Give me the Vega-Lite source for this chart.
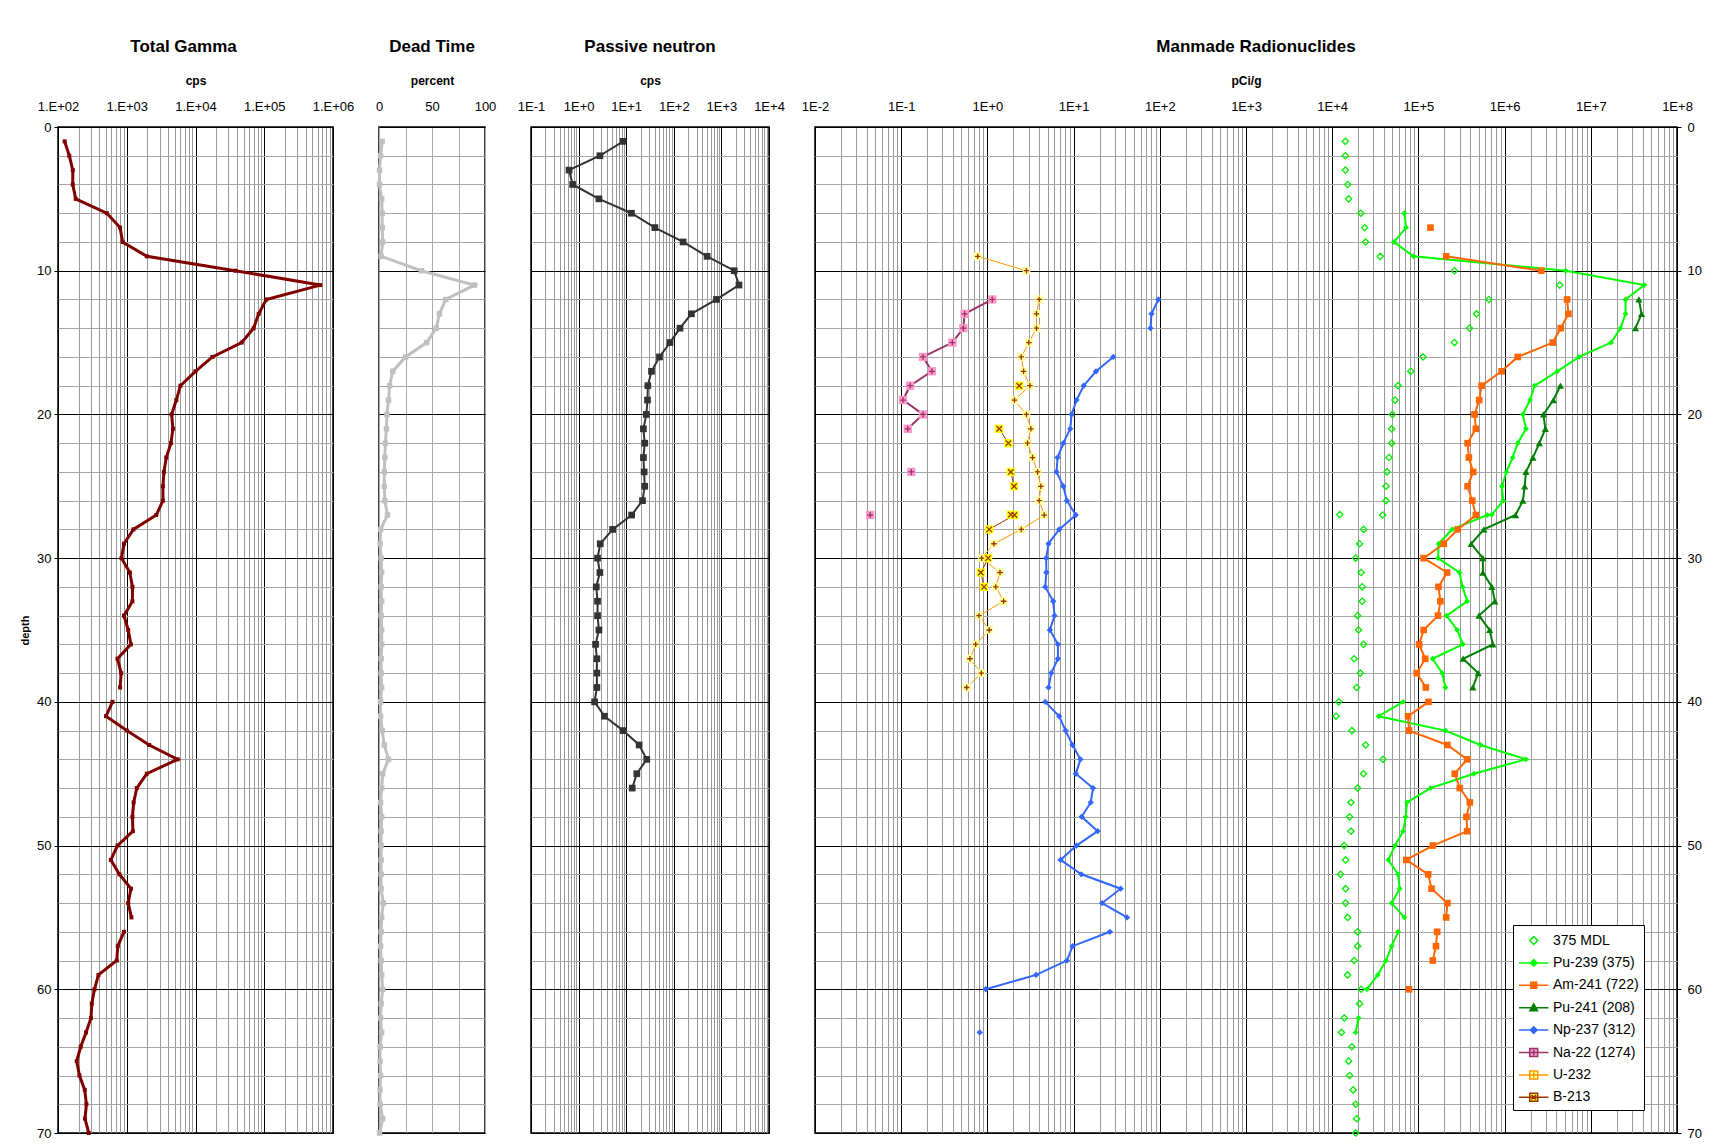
{
  "$schema": "https://vega.github.io/schema/vega-lite/v6.json",
  "padding": {"left": 18, "top": 37, "right": 5, "bottom": 5},
  "background": "white",
  "datasets": {
    "tg": [
      {"d":1,"v":125,"g":1},{"d":2,"v":146,"g":1},{"d":3,"v":164,"g":1},{"d":4,"v":164,"g":1},{"d":5,"v":181,"g":1},
      {"d":6,"v":513,"g":1},{"d":7,"v":800,"g":1},{"d":8,"v":870,"g":1},{"d":9,"v":1960,"g":1},{"d":10,"v":38000,"g":1},
      {"d":11,"v":653000,"g":1},{"d":12,"v":107000,"g":1},{"d":13,"v":83000,"g":1},{"d":14,"v":70000,"g":1},{"d":15,"v":47000,"g":1},
      {"d":16,"v":17600,"g":1},{"d":17,"v":10000,"g":1},{"d":18,"v":6030,"g":1},{"d":19,"v":5260,"g":1},{"d":20,"v":4490,"g":1},
      {"d":21,"v":4700,"g":1},{"d":22,"v":4390,"g":1},{"d":23,"v":3760,"g":1},{"d":24,"v":3470,"g":1},{"d":25,"v":3360,"g":1},
      {"d":26,"v":3360,"g":1},{"d":27,"v":2690,"g":1},{"d":28,"v":1250,"g":1},{"d":29,"v":912,"g":1},{"d":30,"v":838,"g":1},
      {"d":31,"v":1110,"g":1},{"d":32,"v":1210,"g":1},{"d":33,"v":1210,"g":1},{"d":34,"v":912,"g":1},{"d":35,"v":1050,"g":1},
      {"d":36,"v":1150,"g":1},{"d":37,"v":733,"g":1},{"d":38,"v":830,"g":1},{"d":39,"v":800,"g":1},
      {"d":40,"v":620,"g":2},{"d":41,"v":500,"g":2},{"d":42,"v":1000,"g":2},{"d":43,"v":2120,"g":2},{"d":44,"v":5500,"g":2},
      {"d":45,"v":1960,"g":2},{"d":46,"v":1400,"g":2},{"d":47,"v":1260,"g":2},{"d":48,"v":1210,"g":2},{"d":49,"v":1230,"g":2},
      {"d":50,"v":733,"g":2},{"d":51,"v":587,"g":2},{"d":52,"v":783,"g":2},{"d":53,"v":1150,"g":2},{"d":54,"v":1050,"g":2},{"d":55,"v":1170,"g":2},
      {"d":56,"v":912,"g":3},{"d":57,"v":740,"g":3},{"d":58,"v":716,"g":3},{"d":59,"v":388,"g":3},{"d":60,"v":339,"g":3},
      {"d":61,"v":310,"g":3},{"d":62,"v":302,"g":3},{"d":63,"v":256,"g":3},{"d":64,"v":214,"g":3},{"d":65,"v":187,"g":3},
      {"d":66,"v":205,"g":3},{"d":67,"v":245,"g":3},{"d":68,"v":259,"g":3},{"d":69,"v":247,"g":3},{"d":70,"v":280,"g":3}
    ],
    "dt": [
      {"d":1,"v":3},{"d":2,"v":1.5},{"d":3,"v":0.5},{"d":4,"v":0.5},{"d":5,"v":2.5},{"d":6,"v":3},{"d":7,"v":3},{"d":8,"v":3.5},{"d":9,"v":2},
      {"d":10,"v":40},{"d":11,"v":90},{"d":12,"v":63},{"d":13,"v":57},{"d":14,"v":54},{"d":15,"v":45},{"d":16,"v":25},{"d":17,"v":13},
      {"d":18,"v":10},{"d":19,"v":9},{"d":20,"v":7.5},{"d":21,"v":7},{"d":22,"v":6},{"d":23,"v":5.5},{"d":24,"v":5},{"d":25,"v":5},
      {"d":26,"v":5.5},{"d":27,"v":8},{"d":28,"v":1.5},{"d":29,"v":1},{"d":30,"v":2},{"d":31,"v":2.5},{"d":32,"v":2},{"d":33,"v":2.5},
      {"d":34,"v":2},{"d":35,"v":2.5},{"d":36,"v":2.5},{"d":37,"v":2},{"d":38,"v":2},{"d":39,"v":2.5},{"d":40,"v":1.5},{"d":41,"v":1.5},
      {"d":42,"v":3},{"d":43,"v":5},{"d":44,"v":9},{"d":45,"v":3.5},{"d":46,"v":2.5},{"d":47,"v":1.5},{"d":48,"v":2.5},{"d":49,"v":2},
      {"d":50,"v":2},{"d":51,"v":2},{"d":52,"v":2},{"d":53,"v":2},{"d":54,"v":4},{"d":55,"v":2.5},{"d":56,"v":2},{"d":57,"v":1.5},
      {"d":58,"v":2},{"d":59,"v":2.5},{"d":60,"v":3.5},{"d":61,"v":2},{"d":62,"v":1.5},{"d":63,"v":2.5},{"d":64,"v":1},{"d":65,"v":1},
      {"d":66,"v":1.5},{"d":67,"v":1},{"d":68,"v":1},{"d":69,"v":3.5},{"d":70,"v":0.5}
    ],
    "pn": [
      {"d":1,"v":8.65},{"d":2,"v":2.8},{"d":3,"v":0.63},{"d":4,"v":0.75},{"d":5,"v":2.67},{"d":6,"v":12.9},{"d":7,"v":40},{"d":8,"v":157},
      {"d":9,"v":500},{"d":10,"v":1860},{"d":11,"v":2340},{"d":12,"v":790},{"d":13,"v":234},{"d":14,"v":135},{"d":15,"v":83},{"d":16,"v":50},
      {"d":17,"v":34},{"d":18,"v":28.5},{"d":19,"v":28},{"d":20,"v":26.5},{"d":21,"v":23},{"d":22,"v":24.5},{"d":23,"v":23},{"d":24,"v":23.8},
      {"d":25,"v":24.5},{"d":26,"v":22},{"d":27,"v":13},{"d":28,"v":5.2},{"d":29,"v":2.85},{"d":30,"v":2.5},{"d":31,"v":2.8},{"d":32,"v":2.35},
      {"d":33,"v":2.5},{"d":34,"v":2.5},{"d":35,"v":2.67},{"d":36,"v":2.27},{"d":37,"v":2.42},{"d":38,"v":2.42},{"d":39,"v":2.42},{"d":40,"v":2.17},
      {"d":41,"v":3.5},{"d":42,"v":8.65},{"d":43,"v":18.7},{"d":44,"v":27},{"d":45,"v":16.7},{"d":46,"v":13.4}
    ],
    "mm": [
      {"s":"375 MDL","d":1,"v":14200,"g":0},{"s":"375 MDL","d":2,"v":14200,"g":0},{"s":"375 MDL","d":3,"v":14200,"g":0},{"s":"375 MDL","d":4,"v":15100,"g":0},
      {"s":"375 MDL","d":5,"v":15500,"g":0},{"s":"375 MDL","d":6,"v":21500,"g":0},{"s":"375 MDL","d":7,"v":23800,"g":0},{"s":"375 MDL","d":8,"v":24400,"g":0},
      {"s":"375 MDL","d":9,"v":36200,"g":0},{"s":"375 MDL","d":10,"v":262000,"g":0},{"s":"375 MDL","d":11,"v":4360000,"g":0},{"s":"375 MDL","d":12,"v":658000,"g":0},
      {"s":"375 MDL","d":13,"v":472000,"g":0},{"s":"375 MDL","d":14,"v":392000,"g":0},{"s":"375 MDL","d":15,"v":262000,"g":0},{"s":"375 MDL","d":16,"v":113000,"g":0},
      {"s":"375 MDL","d":17,"v":81500,"g":0},{"s":"375 MDL","d":18,"v":58000,"g":0},{"s":"375 MDL","d":19,"v":53600,"g":0},{"s":"375 MDL","d":20,"v":49900,"g":0},
      {"s":"375 MDL","d":21,"v":49000,"g":0},{"s":"375 MDL","d":22,"v":49000,"g":0},{"s":"375 MDL","d":23,"v":45600,"g":0},{"s":"375 MDL","d":24,"v":43200,"g":0},
      {"s":"375 MDL","d":25,"v":42100,"g":0},{"s":"375 MDL","d":26,"v":42100,"g":0},{"s":"375 MDL","d":26.97,"v":12200,"g":0},{"s":"375 MDL","d":27,"v":38500,"g":0},
      {"s":"375 MDL","d":28,"v":23100,"g":0},{"s":"375 MDL","d":29,"v":20800,"g":0},{"s":"375 MDL","d":30,"v":18700,"g":0},{"s":"375 MDL","d":31,"v":21700,"g":0},
      {"s":"375 MDL","d":32,"v":22300,"g":0},{"s":"375 MDL","d":33,"v":22300,"g":0},{"s":"375 MDL","d":34,"v":19700,"g":0},{"s":"375 MDL","d":35,"v":20200,"g":0},
      {"s":"375 MDL","d":36,"v":23100,"g":0},{"s":"375 MDL","d":37,"v":18000,"g":0},{"s":"375 MDL","d":38,"v":21200,"g":0},{"s":"375 MDL","d":39,"v":19200,"g":0},
      {"s":"375 MDL","d":40,"v":11900,"g":0},{"s":"375 MDL","d":41,"v":11100,"g":0},{"s":"375 MDL","d":42,"v":16900,"g":0},{"s":"375 MDL","d":43,"v":24400,"g":0},
      {"s":"375 MDL","d":44,"v":38800,"g":0},{"s":"375 MDL","d":45,"v":23100,"g":0},{"s":"375 MDL","d":46,"v":19700,"g":0},{"s":"375 MDL","d":47,"v":16500,"g":0},
      {"s":"375 MDL","d":48,"v":15900,"g":0},{"s":"375 MDL","d":49,"v":16500,"g":0},{"s":"375 MDL","d":50,"v":13800,"g":0},{"s":"375 MDL","d":51,"v":14300,"g":0},
      {"s":"375 MDL","d":52,"v":12500,"g":0},{"s":"375 MDL","d":53,"v":14300,"g":0},{"s":"375 MDL","d":54,"v":14300,"g":0},{"s":"375 MDL","d":55,"v":15100,"g":0},
      {"s":"375 MDL","d":56,"v":19700,"g":0},{"s":"375 MDL","d":57,"v":19700,"g":0},{"s":"375 MDL","d":58,"v":18000,"g":0},{"s":"375 MDL","d":59,"v":15100,"g":0},
      {"s":"375 MDL","d":60,"v":21700,"g":0},{"s":"375 MDL","d":61,"v":20800,"g":0},{"s":"375 MDL","d":62,"v":13800,"g":0},{"s":"375 MDL","d":63,"v":12800,"g":0},
      {"s":"375 MDL","d":64,"v":16900,"g":0},{"s":"375 MDL","d":65,"v":15500,"g":0},{"s":"375 MDL","d":66,"v":15900,"g":0},{"s":"375 MDL","d":67,"v":17500,"g":0},
      {"s":"375 MDL","d":68,"v":18700,"g":0},{"s":"375 MDL","d":69,"v":19200,"g":0},{"s":"375 MDL","d":70,"v":18700,"g":0},

      {"s":"Pu-239 (375)","d":6,"v":68700,"g":1},{"s":"Pu-239 (375)","d":7,"v":71900,"g":1},{"s":"Pu-239 (375)","d":8,"v":52100,"g":1},{"s":"Pu-239 (375)","d":9,"v":87600,"g":1},
      {"s":"Pu-239 (375)","d":10,"v":5120000,"g":1},{"s":"Pu-239 (375)","d":11,"v":41700000,"g":1},{"s":"Pu-239 (375)","d":12,"v":25300000,"g":1},{"s":"Pu-239 (375)","d":13,"v":25300000,"g":1},
      {"s":"Pu-239 (375)","d":14,"v":22100000,"g":1},{"s":"Pu-239 (375)","d":15,"v":17200000,"g":1},{"s":"Pu-239 (375)","d":16,"v":7310000,"g":1},{"s":"Pu-239 (375)","d":17,"v":4090000,"g":1},
      {"s":"Pu-239 (375)","d":18,"v":2230000,"g":1},{"s":"Pu-239 (375)","d":19,"v":1970000,"g":1},{"s":"Pu-239 (375)","d":20,"v":1630000,"g":1},{"s":"Pu-239 (375)","d":21,"v":1770000,"g":1},
      {"s":"Pu-239 (375)","d":22,"v":1420000,"g":1},{"s":"Pu-239 (375)","d":23,"v":1240000,"g":1},{"s":"Pu-239 (375)","d":24,"v":1050000,"g":1},{"s":"Pu-239 (375)","d":25,"v":931000,"g":1},
      {"s":"Pu-239 (375)","d":26,"v":964000,"g":1},{"s":"Pu-239 (375)","d":26.97,"v":712000,"g":1},{"s":"Pu-239 (375)","d":27,"v":628000,"g":1},{"s":"Pu-239 (375)","d":28,"v":246000,"g":1},
      {"s":"Pu-239 (375)","d":29,"v":172000,"g":1},{"s":"Pu-239 (375)","d":30,"v":169000,"g":1},{"s":"Pu-239 (375)","d":31,"v":300000,"g":1},{"s":"Pu-239 (375)","d":32,"v":325000,"g":1},
      {"s":"Pu-239 (375)","d":33,"v":368000,"g":1},{"s":"Pu-239 (375)","d":34,"v":212000,"g":1},{"s":"Pu-239 (375)","d":35,"v":282000,"g":1},{"s":"Pu-239 (375)","d":36,"v":328000,"g":1},
      {"s":"Pu-239 (375)","d":37,"v":146000,"g":1},{"s":"Pu-239 (375)","d":38,"v":189000,"g":1},{"s":"Pu-239 (375)","d":39,"v":206000,"g":1},
      {"s":"Pu-239 (375)","d":40,"v":66400,"g":2},{"s":"Pu-239 (375)","d":41,"v":34600,"g":2},{"s":"Pu-239 (375)","d":42,"v":206000,"g":2},{"s":"Pu-239 (375)","d":43,"v":526000,"g":2},
      {"s":"Pu-239 (375)","d":44,"v":1770000,"g":2},{"s":"Pu-239 (375)","d":45,"v":440000,"g":2},{"s":"Pu-239 (375)","d":46,"v":138000,"g":2},{"s":"Pu-239 (375)","d":47,"v":73800,"g":2},
      {"s":"Pu-239 (375)","d":48,"v":71200,"g":2},{"s":"Pu-239 (375)","d":49,"v":66400,"g":2},{"s":"Pu-239 (375)","d":50,"v":53600,"g":2},{"s":"Pu-239 (375)","d":51,"v":44800,"g":2},
      {"s":"Pu-239 (375)","d":52,"v":58000,"g":2},{"s":"Pu-239 (375)","d":53,"v":60700,"g":2},{"s":"Pu-239 (375)","d":54,"v":49000,"g":2},{"s":"Pu-239 (375)","d":55,"v":68700,"g":2},
      {"s":"Pu-239 (375)","d":56,"v":58000,"g":3},{"s":"Pu-239 (375)","d":57,"v":49000,"g":3},{"s":"Pu-239 (375)","d":58,"v":42100,"g":3},{"s":"Pu-239 (375)","d":59,"v":33700,"g":3},
      {"s":"Pu-239 (375)","d":60,"v":25300,"g":3},{"s":"Pu-239 (375)","d":62,"v":20200,"g":4},{"s":"Pu-239 (375)","d":63,"v":18700,"g":4},

      {"s":"Am-241 (722)","d":7,"v":138000,"g":1},{"s":"Am-241 (722)","d":9,"v":210000,"g":2},{"s":"Am-241 (722)","d":10,"v":2670000,"g":2},
      {"s":"Am-241 (722)","d":12,"v":5310000,"g":3},{"s":"Am-241 (722)","d":13,"v":5500000,"g":3},{"s":"Am-241 (722)","d":14,"v":4480000,"g":3},{"s":"Am-241 (722)","d":15,"v":3610000,"g":3},
      {"s":"Am-241 (722)","d":16,"v":1420000,"g":3},{"s":"Am-241 (722)","d":17,"v":923000,"g":3},{"s":"Am-241 (722)","d":18,"v":541000,"g":3},{"s":"Am-241 (722)","d":19,"v":507000,"g":3},
      {"s":"Am-241 (722)","d":20,"v":448000,"g":3},{"s":"Am-241 (722)","d":21,"v":464000,"g":3},{"s":"Am-241 (722)","d":22,"v":372000,"g":3},{"s":"Am-241 (722)","d":23,"v":385000,"g":3},
      {"s":"Am-241 (722)","d":24,"v":432000,"g":3},{"s":"Am-241 (722)","d":25,"v":372000,"g":3},{"s":"Am-241 (722)","d":26,"v":421000,"g":3},{"s":"Am-241 (722)","d":27,"v":464000,"g":3},
      {"s":"Am-241 (722)","d":28,"v":286000,"g":3},{"s":"Am-241 (722)","d":29,"v":197000,"g":3},{"s":"Am-241 (722)","d":30,"v":115000,"g":3},{"s":"Am-241 (722)","d":31,"v":215000,"g":3},
      {"s":"Am-241 (722)","d":32,"v":171000,"g":3},{"s":"Am-241 (722)","d":33,"v":180000,"g":3},{"s":"Am-241 (722)","d":34,"v":169000,"g":3},{"s":"Am-241 (722)","d":35,"v":115000,"g":3},
      {"s":"Am-241 (722)","d":36,"v":102000,"g":3},{"s":"Am-241 (722)","d":37,"v":120000,"g":3},{"s":"Am-241 (722)","d":38,"v":95700,"g":3},{"s":"Am-241 (722)","d":39,"v":122000,"g":3},
      {"s":"Am-241 (722)","d":40,"v":131000,"g":4},{"s":"Am-241 (722)","d":41,"v":75900,"g":4},{"s":"Am-241 (722)","d":42,"v":77800,"g":4},{"s":"Am-241 (722)","d":43,"v":217000,"g":4},
      {"s":"Am-241 (722)","d":44,"v":368000,"g":4},{"s":"Am-241 (722)","d":45,"v":264000,"g":4},{"s":"Am-241 (722)","d":46,"v":302000,"g":4},{"s":"Am-241 (722)","d":47,"v":395000,"g":4},
      {"s":"Am-241 (722)","d":48,"v":361000,"g":4},{"s":"Am-241 (722)","d":49,"v":368000,"g":4},{"s":"Am-241 (722)","d":50,"v":147000,"g":4},{"s":"Am-241 (722)","d":51,"v":72400,"g":4},
      {"s":"Am-241 (722)","d":52,"v":130000,"g":4},{"s":"Am-241 (722)","d":53,"v":142000,"g":4},{"s":"Am-241 (722)","d":54,"v":217000,"g":4},{"s":"Am-241 (722)","d":55,"v":210000,"g":4},
      {"s":"Am-241 (722)","d":56,"v":165000,"g":5},{"s":"Am-241 (722)","d":57,"v":160000,"g":5},{"s":"Am-241 (722)","d":58,"v":147000,"g":5},{"s":"Am-241 (722)","d":60,"v":77800,"g":6},

      {"s":"Pu-241 (208)","d":12,"v":36100000,"g":1},{"s":"Pu-241 (208)","d":13,"v":38800000,"g":1},{"s":"Pu-241 (208)","d":14,"v":33000000,"g":1},
      {"s":"Pu-241 (208)","d":18,"v":4440000,"g":2},{"s":"Pu-241 (208)","d":19,"v":3680000,"g":2},{"s":"Pu-241 (208)","d":20,"v":2820000,"g":2},{"s":"Pu-241 (208)","d":21,"v":2970000,"g":2},
      {"s":"Pu-241 (208)","d":22,"v":2530000,"g":2},{"s":"Pu-241 (208)","d":23,"v":2130000,"g":2},{"s":"Pu-241 (208)","d":24,"v":1770000,"g":2},{"s":"Pu-241 (208)","d":25,"v":1710000,"g":2},
      {"s":"Pu-241 (208)","d":26,"v":1630000,"g":2},{"s":"Pu-241 (208)","d":27,"v":1340000,"g":2},{"s":"Pu-241 (208)","d":28,"v":575000,"g":2},{"s":"Pu-241 (208)","d":29,"v":410000,"g":2},
      {"s":"Pu-241 (208)","d":30,"v":560000,"g":2},{"s":"Pu-241 (208)","d":31,"v":560000,"g":2},{"s":"Pu-241 (208)","d":32,"v":712000,"g":2},{"s":"Pu-241 (208)","d":33,"v":772000,"g":2},
      {"s":"Pu-241 (208)","d":34,"v":504000,"g":2},{"s":"Pu-241 (208)","d":35,"v":670000,"g":2},{"s":"Pu-241 (208)","d":36,"v":731000,"g":2},{"s":"Pu-241 (208)","d":37,"v":330000,"g":2},
      {"s":"Pu-241 (208)","d":38,"v":494000,"g":2},{"s":"Pu-241 (208)","d":39,"v":428000,"g":2},

      {"s":"Np-237 (312)","d":12,"v":96.4,"g":1},{"s":"Np-237 (312)","d":13,"v":80,"g":1},{"s":"Np-237 (312)","d":14,"v":77.9,"g":1},
      {"s":"Np-237 (312)","d":16,"v":28.9,"g":2},{"s":"Np-237 (312)","d":17,"v":18.2,"g":2},{"s":"Np-237 (312)","d":18,"v":13.1,"g":2},{"s":"Np-237 (312)","d":19,"v":10.8,"g":2},
      {"s":"Np-237 (312)","d":20,"v":9.48,"g":2},{"s":"Np-237 (312)","d":21,"v":9.15,"g":2},{"s":"Np-237 (312)","d":22,"v":7.59,"g":2},{"s":"Np-237 (312)","d":23,"v":6.52,"g":2},
      {"s":"Np-237 (312)","d":24,"v":6.34,"g":2},{"s":"Np-237 (312)","d":25,"v":7.59,"g":2},{"s":"Np-237 (312)","d":26,"v":8.36,"g":2},{"s":"Np-237 (312)","d":27,"v":10.6,"g":2},
      {"s":"Np-237 (312)","d":28,"v":6.81,"g":2},{"s":"Np-237 (312)","d":29,"v":5.12,"g":2},{"s":"Np-237 (312)","d":30,"v":4.81,"g":2},{"s":"Np-237 (312)","d":31,"v":4.83,"g":2},
      {"s":"Np-237 (312)","d":32,"v":4.69,"g":2},{"s":"Np-237 (312)","d":33,"v":5.8,"g":2},{"s":"Np-237 (312)","d":34,"v":6.01,"g":2},{"s":"Np-237 (312)","d":35,"v":5.31,"g":2},
      {"s":"Np-237 (312)","d":36,"v":6.58,"g":2},{"s":"Np-237 (312)","d":37,"v":6.58,"g":2},{"s":"Np-237 (312)","d":38,"v":5.5,"g":2},{"s":"Np-237 (312)","d":39,"v":5.12,"g":2},
      {"s":"Np-237 (312)","d":40,"v":4.69,"g":3},{"s":"Np-237 (312)","d":41,"v":6.81,"g":3},{"s":"Np-237 (312)","d":42,"v":8.07,"g":3},{"s":"Np-237 (312)","d":43,"v":9.73,"g":3},
      {"s":"Np-237 (312)","d":44,"v":12,"g":3},{"s":"Np-237 (312)","d":45,"v":10.6,"g":3},{"s":"Np-237 (312)","d":46,"v":16.8,"g":3},{"s":"Np-237 (312)","d":47,"v":15.8,"g":3},
      {"s":"Np-237 (312)","d":48,"v":12.4,"g":3},{"s":"Np-237 (312)","d":49,"v":19,"g":3},{"s":"Np-237 (312)","d":50,"v":10.8,"g":3},{"s":"Np-237 (312)","d":51,"v":7.06,"g":3},
      {"s":"Np-237 (312)","d":52,"v":12.3,"g":3},{"s":"Np-237 (312)","d":53,"v":35.2,"g":3},{"s":"Np-237 (312)","d":54,"v":21.4,"g":3},{"s":"Np-237 (312)","d":55,"v":41.7,"g":3},
      {"s":"Np-237 (312)","d":56,"v":26.4,"g":4},{"s":"Np-237 (312)","d":57,"v":9.73,"g":4},{"s":"Np-237 (312)","d":58,"v":8.36,"g":4},{"s":"Np-237 (312)","d":59,"v":3.67,"g":4},
      {"s":"Np-237 (312)","d":60,"v":0.957,"g":4},{"s":"Np-237 (312)","d":63,"v":0.815,"g":5},

      {"s":"Na-22 (1274)","d":12,"v":1.14,"g":1},{"s":"Na-22 (1274)","d":13,"v":0.544,"g":1},{"s":"Na-22 (1274)","d":14,"v":0.526,"g":1},{"s":"Na-22 (1274)","d":15,"v":0.392,"g":1},
      {"s":"Na-22 (1274)","d":16,"v":0.179,"g":1},{"s":"Na-22 (1274)","d":17,"v":0.227,"g":1},{"s":"Na-22 (1274)","d":18,"v":0.127,"g":1},{"s":"Na-22 (1274)","d":19,"v":0.105,"g":1},
      {"s":"Na-22 (1274)","d":20,"v":0.179,"g":1},{"s":"Na-22 (1274)","d":21,"v":0.119,"g":1},{"s":"Na-22 (1274)","d":24,"v":0.131,"g":2},{"s":"Na-22 (1274)","d":27,"v":0.0437,"g":3},

      {"s":"U-232","d":9,"v":0.771,"g":1},{"s":"U-232","d":10,"v":2.84,"g":1},
      {"s":"U-232","d":12,"v":3.99,"g":2},{"s":"U-232","d":13,"v":3.71,"g":2},{"s":"U-232","d":14,"v":3.71,"g":2},{"s":"U-232","d":15,"v":3.03,"g":2},
      {"s":"U-232","d":16,"v":2.47,"g":2},{"s":"U-232","d":17,"v":2.63,"g":2},{"s":"U-232","d":18,"v":3.11,"g":2},{"s":"U-232","d":19,"v":2.06,"g":2},
      {"s":"U-232","d":20,"v":2.84,"g":2},{"s":"U-232","d":21,"v":3.19,"g":2},{"s":"U-232","d":22,"v":2.92,"g":2},{"s":"U-232","d":23,"v":3.34,"g":2},
      {"s":"U-232","d":24,"v":3.82,"g":2},{"s":"U-232","d":25,"v":4.17,"g":2},{"s":"U-232","d":26,"v":3.99,"g":2},{"s":"U-232","d":27,"v":4.56,"g":2},
      {"s":"U-232","d":28,"v":2.47,"g":2},{"s":"U-232","d":29,"v":1.19,"g":2},{"s":"U-232","d":30,"v":0.859,"g":2},{"s":"U-232","d":31,"v":1.4,"g":2},
      {"s":"U-232","d":32,"v":1.25,"g":2},{"s":"U-232","d":33,"v":1.54,"g":2},{"s":"U-232","d":34,"v":0.8,"g":2},{"s":"U-232","d":35,"v":1.05,"g":2},
      {"s":"U-232","d":36,"v":0.731,"g":2},{"s":"U-232","d":37,"v":0.628,"g":2},{"s":"U-232","d":38,"v":0.851,"g":2},{"s":"U-232","d":39,"v":0.575,"g":2},

      {"s":"B-213","d":18,"v":2.34,"g":1},{"s":"B-213","d":21,"v":1.37,"g":2},{"s":"B-213","d":22,"v":1.75,"g":2},
      {"s":"B-213","d":24,"v":1.87,"g":3},{"s":"B-213","d":25,"v":2.04,"g":3},
      {"s":"B-213","d":26.97,"v":1.87,"g":4},{"s":"B-213","d":27,"v":2.06,"g":4},{"s":"B-213","d":28,"v":1.05,"g":4},
      {"s":"B-213","d":30,"v":1.02,"g":5},{"s":"B-213","d":31,"v":0.84,"g":5},{"s":"B-213","d":32,"v":0.914,"g":5}
    ]
  },
  "config": {
    "font": "Liberation Sans",
    "view": {"stroke": "#000000", "strokeWidth": 1.5},
    "axis": {
      "labelFont": "Liberation Sans", "labelFontSize": 13, "labelColor": "#000000",
      "titleFont": "Liberation Sans", "titleFontSize": 12, "titleFontWeight": "bold", "titleColor": "#000000",
      "domain": false, "ticks": false, "gridOpacity": 1, "gridWidth": 1,
      "labelOverlap": false, "labelFlush": false, "labelBound": false
    },
    "axisX": {"labelPadding": 14, "titlePadding": 13},
    "axisY": {"labelPadding": 3, "tickSize": 4, "tickColor": "#000000"},
    "title": {"font": "Liberation Sans", "fontSize": 17, "fontWeight": "bold", "color": "#000000", "offset": 18},
    "legend": {"labelFont": "Liberation Sans"}
  },
  "bounds": "flush",
  "spacing": 46,
  "hconcat": [
    {
      "width": 275, "height": 1006,
      "data": {"name": "tg"},
      "title": {"text": "Total Gamma", "dx": -12},
      "encoding": {
        "x": {"field": "v", "type": "quantitative", "scale": {"type": "log", "domain": [100, 1000000], "nice": false},
          "axis": {"orient": "top", "title": "cps",
            "values": [100,200,300,400,500,600,700,800,900,1000,2000,3000,4000,5000,6000,7000,8000,9000,10000,20000,30000,40000,50000,60000,70000,80000,90000,100000,200000,300000,400000,500000,600000,700000,800000,900000,1000000],
            "labelExpr": "abs(log(datum.value)/LN10 - round(log(datum.value)/LN10)) < 0.001 ? '1.E+0' + round(log(datum.value)/LN10) : ''",
            "gridColor": {"condition": {"test": "abs(log(datum.value)/LN10 - round(log(datum.value)/LN10)) < 0.001", "value": "#000000"}, "value": "#999999"}}},
        "y": {"field": "d", "type": "quantitative", "scale": {"domain": [0, 70], "reverse": true, "nice": false, "zero": false},
          "axis": {"title": "depth", "titleFontSize": 11, "titlePadding": 6,
            "values": [0,2,4,6,8,10,12,14,16,18,20,22,24,26,28,30,32,34,36,38,40,42,44,46,48,50,52,54,56,58,60,62,64,66,68,70],
            "labelExpr": "datum.value % 10 == 0 ? datum.label : ''",
            "ticks": true,
            "tickOpacity": {"condition": {"test": "datum.value % 10 == 0", "value": 1}, "value": 0},
            "gridColor": {"condition": {"test": "datum.value % 10 == 0", "value": "#000000"}, "value": "#a6a6a6"}}}
      },
      "layer": [
        {"mark": {"type": "line", "color": "#800000", "strokeWidth": 3}, "encoding": {"detail": {"field": "g"}, "order": {"field": "d", "type": "quantitative"}}},
        {"mark": {"type": "point", "shape": "square", "filled": true, "color": "#800000", "size": 16, "opacity": 1}}
      ]
    },
    {
      "width": 106, "height": 1006,
      "data": {"name": "dt"},
      "title": {"text": "Dead Time"},
      "encoding": {
        "x": {"field": "v", "type": "quantitative", "scale": {"domain": [0, 100], "nice": false},
          "axis": {"orient": "top", "title": "percent", "values": [0,25,50,75,100],
            "labelExpr": "datum.value % 50 == 0 ? datum.label : ''", "gridColor": "#aaaaaa"}},
        "y": {"field": "d", "type": "quantitative", "scale": {"domain": [0, 70], "reverse": true, "nice": false, "zero": false},
          "axis": {"title": null, "labels": false, "ticks": false,
            "values": [0,2,4,6,8,10,12,14,16,18,20,22,24,26,28,30,32,34,36,38,40,42,44,46,48,50,52,54,56,58,60,62,64,66,68,70],
            "gridColor": {"condition": {"test": "datum.value % 10 == 0", "value": "#000000"}, "value": "#a6a6a6"}}}
      },
      "layer": [
        {"mark": {"type": "line", "color": "#c0c0c0", "strokeWidth": 3}, "encoding": {"order": {"field": "d", "type": "quantitative"}}},
        {"mark": {"type": "point", "shape": "square", "filled": true, "color": "#c0c0c0", "size": 30, "opacity": 1}}
      ]
    },
    {
      "width": 238, "height": 1006,
      "data": {"name": "pn"},
      "title": {"text": "Passive neutron"},
      "encoding": {
        "x": {"field": "v", "type": "quantitative", "scale": {"type": "log", "domain": [0.1, 10000], "nice": false},
          "axis": {"orient": "top", "title": "cps",
            "values": [0.1,0.2,0.3,0.4,0.5,0.6,0.7,0.8,0.9,1,2,3,4,5,6,7,8,9,10,20,30,40,50,60,70,80,90,100,200,300,400,500,600,700,800,900,1000,2000,3000,4000,5000,6000,7000,8000,9000,10000],
            "labelExpr": "abs(log(datum.value)/LN10 - round(log(datum.value)/LN10)) < 0.001 ? '1E' + (round(log(datum.value)/LN10) < 0 ? '-' : '+') + abs(round(log(datum.value)/LN10)) : ''",
            "gridColor": {"condition": {"test": "abs(log(datum.value)/LN10 - round(log(datum.value)/LN10)) < 0.001", "value": "#000000"}, "value": "#999999"}}},
        "y": {"field": "d", "type": "quantitative", "scale": {"domain": [0, 70], "reverse": true, "nice": false, "zero": false},
          "axis": {"title": null, "labels": false, "ticks": false,
            "values": [0,2,4,6,8,10,12,14,16,18,20,22,24,26,28,30,32,34,36,38,40,42,44,46,48,50,52,54,56,58,60,62,64,66,68,70],
            "gridColor": {"condition": {"test": "datum.value % 10 == 0", "value": "#000000"}, "value": "#a6a6a6"}}}
      },
      "layer": [
        {"mark": {"type": "line", "color": "#333333", "strokeWidth": 2}, "encoding": {"order": {"field": "d", "type": "quantitative"}}},
        {"mark": {"type": "point", "shape": "square", "filled": true, "color": "#333333", "size": 45, "opacity": 1}}
      ]
    },
    {
      "width": 862, "height": 1006,
      "data": {"name": "mm"},
      "title": {"text": "Manmade Radionuclides", "dx": 10},
      "encoding": {
        "x": {"field": "v", "type": "quantitative", "scale": {"type": "log", "domain": [0.01, 100000000], "nice": false},
          "axis": {"orient": "top", "title": "pCi/g",
            "values": [0.01,0.02,0.03,0.04,0.05,0.06,0.07,0.08,0.09,0.1,0.2,0.3,0.4,0.5,0.6,0.7,0.8,0.9,1,2,3,4,5,6,7,8,9,10,20,30,40,50,60,70,80,90,100,200,300,400,500,600,700,800,900,1000,2000,3000,4000,5000,6000,7000,8000,9000,10000,20000,30000,40000,50000,60000,70000,80000,90000,100000,200000,300000,400000,500000,600000,700000,800000,900000,1000000,2000000,3000000,4000000,5000000,6000000,7000000,8000000,9000000,10000000,20000000,30000000,40000000,50000000,60000000,70000000,80000000,90000000,100000000],
            "labelExpr": "abs(log(datum.value)/LN10 - round(log(datum.value)/LN10)) < 0.001 ? '1E' + (round(log(datum.value)/LN10) < 0 ? '-' : '+') + abs(round(log(datum.value)/LN10)) : ''",
            "gridColor": {"condition": {"test": "abs(log(datum.value)/LN10 - round(log(datum.value)/LN10)) < 0.001", "value": "#000000"}, "value": "#999999"}}},
        "y": {"field": "d", "type": "quantitative", "scale": {"domain": [0, 70], "reverse": true, "nice": false, "zero": false},
          "axis": {"orient": "right", "title": null,
            "values": [0,2,4,6,8,10,12,14,16,18,20,22,24,26,28,30,32,34,36,38,40,42,44,46,48,50,52,54,56,58,60,62,64,66,68,70],
            "labelExpr": "datum.value % 10 == 0 ? datum.label : ''",
            "ticks": true, "labelPadding": 6,
            "tickOpacity": {"condition": {"test": "datum.value % 10 == 0", "value": 1}, "value": 0},
            "gridColor": {"condition": {"test": "datum.value % 10 == 0", "value": "#000000"}, "value": "#a6a6a6"}}}
      },
      "layer": [
        {"transform": [{"filter": "indexof(['Pu-239 (375)','Am-241 (722)','Pu-241 (208)','Np-237 (312)','Na-22 (1274)'], datum.s) >= 0"}],
          "mark": {"type": "line", "strokeWidth": 2},
          "encoding": {
            "color": {"field": "s", "type": "nominal", "legend": null,
              "scale": {"domain": ["Pu-239 (375)","Am-241 (722)","Pu-241 (208)","Np-237 (312)","Na-22 (1274)","U-232","B-213"],
                        "range": ["#00ff00","#ff6600","#008000","#3366ff","#993366","#ff9900","#993300"]}},
            "detail": {"field": "g"}, "order": {"field": "d", "type": "quantitative"}}},
        {"transform": [{"filter": "datum.s == 'U-232' || datum.s == 'B-213'"}],
          "mark": {"type": "line", "strokeWidth": 1},
          "encoding": {
            "color": {"field": "s", "type": "nominal", "legend": null},
            "detail": {"field": "g"}, "order": {"field": "d", "type": "quantitative"}}},
        {"transform": [{"filter": "datum.s == '375 MDL'"}],
          "mark": {"type": "point", "shape": "diamond", "filled": false, "stroke": "#00ee00", "strokeWidth": 1.3, "size": 40, "opacity": 1}},
        {"transform": [{"filter": "datum.s == 'Pu-239 (375)'"}],
          "mark": {"type": "point", "shape": "diamond", "filled": true, "color": "#00ff00", "size": 34, "opacity": 1}},
        {"transform": [{"filter": "datum.s == 'Am-241 (722)'"}],
          "mark": {"type": "point", "shape": "square", "filled": true, "color": "#ff6600", "size": 44, "opacity": 1}},
        {"transform": [{"filter": "datum.s == 'Pu-241 (208)'"}],
          "mark": {"type": "point", "shape": "triangle-up", "filled": true, "color": "#008000", "size": 52, "opacity": 1}},
        {"transform": [{"filter": "datum.s == 'Np-237 (312)'"}],
          "mark": {"type": "point", "shape": "diamond", "filled": true, "color": "#3366ff", "size": 40, "opacity": 1}},
        {"transform": [{"filter": "datum.s == 'Na-22 (1274)'"}],
          "mark": {"type": "point", "shape": "square", "filled": true, "color": "#ff99cc", "size": 70, "opacity": 1}},
        {"transform": [{"filter": "datum.s == 'Na-22 (1274)'"}],
          "mark": {"type": "point", "shape": "M-1,0H1M0,-1V1", "filled": false, "stroke": "#993366", "strokeWidth": 1.3, "size": 36, "opacity": 1}},
        {"transform": [{"filter": "datum.s == 'U-232'"}],
          "mark": {"type": "point", "shape": "square", "filled": true, "color": "#ffff99", "size": 60, "opacity": 1}},
        {"transform": [{"filter": "datum.s == 'U-232'"}],
          "mark": {"type": "point", "shape": "M-1,0H1M0,-1V1", "filled": false, "stroke": "#993300", "strokeWidth": 1.3, "size": 30, "opacity": 1}},
        {"transform": [{"filter": "datum.s == 'B-213'"}],
          "mark": {"type": "point", "shape": "square", "filled": true, "color": "#ffff00", "size": 70, "opacity": 1}},
        {"transform": [{"filter": "datum.s == 'B-213'"}],
          "mark": {"type": "point", "shape": "M-1,-1L1,1M-1,1L1,-1", "filled": false, "stroke": "#993300", "strokeWidth": 1.3, "size": 30, "opacity": 1}},
        {"mark": {"type": "point", "filled": true, "opacity": 0},
          "encoding": {
            "shape": {"field": "s", "type": "nominal",
              "scale": {"domain": ["375 MDL","Pu-239 (375)","Am-241 (722)","Pu-241 (208)","Np-237 (312)","Na-22 (1274)","U-232","B-213"],
                "range": [
                  "M0.55,-0.42L0.97,0L0.55,0.42L0.13,0Z",
                  "M-1,0H2.1M0.55,-0.35L0.9,0L0.55,0.35L0.2,0Z",
                  "M-1,0H2.1M0.23,-0.32H0.87V0.32H0.23Z",
                  "M-1,0H2.1M0.55,-0.4L0.95,0.32H0.15Z",
                  "M-1,0H2.1M0.55,-0.35L0.9,0L0.55,0.35L0.2,0Z",
                  "M-1,0H2.1M0.13,-0.42H0.97V0.42H0.13ZM0.55,-0.28V0.28M0.27,0H0.83",
                  "M-1,0H2.1M0.13,-0.42H0.97V0.42H0.13ZM0.55,-0.28V0.28M0.27,0H0.83",
                  "M-1,0H2.1M0.13,-0.42H0.97V0.42H0.13ZM0.31,-0.24L0.79,0.24M0.31,0.24L0.79,-0.24"]},
              "legend": {"title": null, "orient": "none", "legendX": 1455, "legendY": 798, "padding": 5, "strokeColor": "#000000", "fillColor": "#ffffff",
                "symbolSize": 360, "symbolStrokeWidth": 1.5, "symbolOpacity": 1, "labelFontSize": 14, "labelColor": "#000000", "labelOffset": 14, "rowPadding": 4.4}},
            "fill": {"field": "s", "type": "nominal",
              "scale": {"domain": ["375 MDL","Pu-239 (375)","Am-241 (722)","Pu-241 (208)","Np-237 (312)","Na-22 (1274)","U-232","B-213"],
                "range": ["#ffffff","#00ff00","#ff6600","#008000","#3366ff","#ff99cc","#ffff99","#ffff00"]},
              "legend": {"title": null, "orient": "none", "legendX": 1455, "legendY": 798, "padding": 5, "strokeColor": "#000000", "fillColor": "#ffffff",
                "symbolSize": 360, "symbolStrokeWidth": 1.5, "symbolOpacity": 1, "labelFontSize": 14, "labelColor": "#000000", "labelOffset": 14, "rowPadding": 4.4}},
            "stroke": {"field": "s", "type": "nominal",
              "scale": {"domain": ["375 MDL","Pu-239 (375)","Am-241 (722)","Pu-241 (208)","Np-237 (312)","Na-22 (1274)","U-232","B-213"],
                "range": ["#00ee00","#00ff00","#ff6600","#008000","#3366ff","#993366","#ff9900","#993300"]},
              "legend": {"title": null, "orient": "none", "legendX": 1455, "legendY": 798, "padding": 5, "strokeColor": "#000000", "fillColor": "#ffffff",
                "symbolSize": 360, "symbolStrokeWidth": 1.5, "symbolOpacity": 1, "labelFontSize": 14, "labelColor": "#000000", "labelOffset": 14, "rowPadding": 4.4}}
          }}
      ]
    }
  ]
}
